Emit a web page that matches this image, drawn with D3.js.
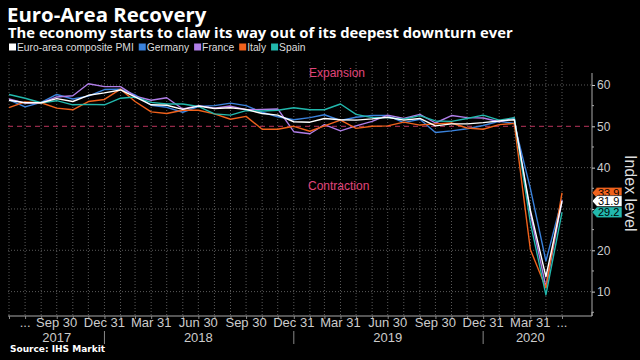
<!DOCTYPE html>
<html><head><meta charset="utf-8">
<script src="https://cdn.jsdelivr.net/npm/d3@7"></script>
<style>
body{margin:0;background:#000;}
svg{display:block;background:#000;}
</style></head><body>
<svg id="c" width="640" height="360"></svg>
<script>
const months = ["2017-06","2017-07","2017-08","2017-09","2017-10","2017-11","2017-12",
"2018-01","2018-02","2018-03","2018-04","2018-05","2018-06","2018-07","2018-08","2018-09","2018-10","2018-11","2018-12",
"2019-01","2019-02","2019-03","2019-04","2019-05","2019-06","2019-07","2019-08","2019-09","2019-10","2019-11","2019-12",
"2020-01","2020-02","2020-03","2020-04","2020-05"];

const euro    = [56.3,55.7,55.7,56.7,56.0,57.5,58.1, 58.8,57.1,55.2,55.1,54.1,54.9,54.3,54.5,54.1,53.1,52.7,51.1, 51.0,51.9,51.6,51.5,51.8,52.2,51.5,51.9,50.1,50.6,50.6,50.9, 51.3,51.6,29.7,13.6,31.9];
const germany = [56.4,54.7,55.8,57.7,56.6,57.3,58.9, 59.0,57.6,55.1,54.6,53.4,54.8,55.0,55.6,55.0,53.4,52.3,51.6, 52.1,52.8,51.4,52.2,52.6,52.6,50.9,51.7,48.5,48.9,49.4,50.2, 51.2,50.7,35.0,17.4,32.3];
const france  = [56.6,55.6,55.6,57.1,57.4,60.3,59.6, 59.6,57.3,56.3,56.9,54.2,55.0,54.4,54.9,54.0,54.1,54.2,48.7, 48.2,50.4,48.9,50.1,51.2,52.7,51.9,52.9,50.8,52.6,52.1,52.0, 51.1,52.0,28.9,11.1,32.1];
const italy   = [54.5,55.9,55.7,54.4,54.0,56.0,56.5, 59.0,56.0,53.5,53.1,53.9,53.9,53.0,51.7,52.4,49.3,49.3,50.0, 48.8,50.1,51.5,49.5,50.0,50.1,51.0,50.3,50.6,50.8,49.6,49.3, 50.4,50.7,20.2,10.9,33.9];
const spain   = [57.7,56.8,55.7,56.2,55.2,55.3,55.2, 56.8,57.1,55.8,55.4,55.4,54.8,53.0,52.7,53.8,53.7,53.9,54.5, 54.0,54.0,55.4,52.9,52.1,52.1,51.7,52.6,51.3,51.2,51.9,52.7, 51.5,52.1,26.7,9.2,29.2];

const seriesNames  = ["Euro-area composite PMI","Germany","France","Italy","Spain"];
const seriesValues = [euro, germany, france, italy, spain];
const seriesColors = ["#ffffff","#3a82dc","#b07ee8","#f0621c","#22b8ad"];
const drawOrder    = [1,2,3,4,0];
const labelOrder   = [3,4,0];   // visible end-value tags (others are hidden behind these)

const tickMonths = ["2017-07","2017-09","2017-12","2018-03","2018-06","2018-09","2018-12","2019-03","2019-06","2019-09","2019-12","2020-03","2020-05"];
const tickLabels = ["...","Sep 30","Dec 31","Mar 31","Jun 30","Sep 30","Dec 31","Mar 31","Jun 30","Sep 30","Dec 31","Mar 31","..."];
const yearMonths = ["2017-09","2018-06","2019-06","2020-03"];
const yearLabels = ["2017","2018","2019","2020"];
const yearBreaks = ["2017-12","2018-12","2019-12"];
const yTicks = [10,20,30,40,50,60];
const yTickLabels = ["10","20","","40","50","60"];
const yMinor = [5,15,25,35,45,55];

const parse = d3.timeParse("%Y-%m");
const monthEnd = m => d3.timeDay.offset(d3.timeMonth.offset(parse(m),1),-1);
const dates = months.map(monthEnd);

const svg = d3.select("#c");
const FONT = "'Liberation Sans', Arial, sans-serif";
const TFONT = "'Open Sans', 'Liberation Sans', sans-serif";
const NARROW = "'Liberation Sans Narrow', 'Liberation Sans', sans-serif";

const x = d3.scaleTime().domain([dates[0], dates[dates.length-1]]).range([9, 562]);
const y = d3.scaleLinear().domain([4.1, 62.9]).range([316, 73]);
const X0 = 8, X1 = 592, YT = 62, YB = 316;

// titles
svg.append("text").attr("x",7).attr("y",21.5).attr("fill","#fff")
  .attr("font-family",TFONT).attr("font-weight","bold").attr("font-size",20.4)
  .text("Euro-Area Recovery");
svg.append("text").attr("x",8).attr("y",38).attr("fill","#fff")
  .attr("font-family",TFONT).attr("font-weight","bold").attr("font-size",14.8)
  .text("The economy starts to claw its way out of its deepest downturn ever");

// legend
const leg = svg.append("g").attr("font-family",NARROW).attr("font-size",10.3).attr("fill","#ddd");
let lx = 9;
seriesNames.forEach((n,i)=>{
  leg.append("rect").attr("x",lx).attr("y",43.5).attr("width",7).attr("height",7).attr("fill",seriesColors[i]);
  const t = leg.append("text").attr("x",lx+8).attr("y",51).text(n);
  lx += 8 + t.node().getComputedTextLength() + 5;
});

// vertical grid
svg.append("g").selectAll("line").data(dates).join("line")
  .attr("x1",d=>x(d)).attr("x2",d=>x(d)).attr("y1",YT).attr("y2",YB)
  .attr("stroke","#5a5a5a").attr("stroke-width",1).attr("stroke-dasharray","1,2");

// horizontal grid
svg.append("g").selectAll("line").data(yTicks.filter(v=>v!==50)).join("line")
  .attr("x1",X0).attr("x2",X1).attr("y1",d=>y(d)).attr("y2",d=>y(d))
  .attr("stroke","#5a5a5a").attr("stroke-width",1).attr("stroke-dasharray","1,2");

// 50 reference line
svg.append("line").attr("x1",X0).attr("x2",X1).attr("y1",y(50)).attr("y2",y(50))
  .attr("stroke","#b8345a").attr("stroke-width",1).attr("stroke-dasharray","5,4");

// annotations
svg.append("text").attr("x",309).attr("y",77).attr("fill","#e0457b")
  .attr("font-family",FONT).attr("font-size",12).text("Expansion");
svg.append("text").attr("x",308).attr("y",190).attr("fill","#e0457b")
  .attr("font-family",FONT).attr("font-size",12).text("Contraction");

// lines
const line = d3.line().x((d,i)=>x(dates[i])).y(d=>y(d));
drawOrder.forEach(i=>{
  svg.append("path").datum(seriesValues[i]).attr("d",line)
    .attr("fill","none").attr("stroke",seriesColors[i]).attr("stroke-width",1.4)
    .attr("stroke-linejoin","round");
});

// x axis
const xa = svg.append("g").attr("transform",`translate(0,${YB})`)
  .call(d3.axisBottom(x).tickValues(dates).tickSize(3).tickFormat(""));
xa.select(".domain").attr("d",`M${X0},0H${X1}V-4`).attr("stroke","#aaa").attr("fill","none");
xa.selectAll(".tick line").attr("stroke","#888");
const xl = svg.append("g").attr("font-family",NARROW).attr("font-size",13).attr("fill","#ccc").attr("text-anchor","middle");
tickMonths.forEach((m,i)=>{
  xl.append("text").attr("x",x(monthEnd(m))).attr("y",327).text(tickLabels[i]);
});
yearMonths.forEach((m,i)=>{
  xl.append("text").attr("x",x(monthEnd(m))).attr("y",342).text(yearLabels[i]);
});
svg.append("g").selectAll("line").data(yearBreaks).join("line")
  .attr("x1",d=>x(monthEnd(d))).attr("x2",d=>x(monthEnd(d))).attr("y1",331).attr("y2",344)
  .attr("stroke","#888").attr("stroke-width",1);

// y axis (right)
const ya = svg.append("g").attr("transform",`translate(${X1},0)`)
  .call(d3.axisRight(y).tickValues(yTicks).tickSize(3).tickPadding(2)
        .tickFormat((d,i)=>yTickLabels[i]));
ya.select(".domain").attr("d",`M0,${y(62.9)}V${YB}`).attr("stroke","#aaa");
ya.selectAll(".tick line").attr("stroke","#ccc");
ya.selectAll(".tick text").attr("fill","#ccc").attr("font-family",FONT).attr("font-size",12);
svg.append("g").selectAll("line").data(yMinor).join("line")
  .attr("x1",X1).attr("x2",X1+2).attr("y1",d=>y(d)).attr("y2",d=>y(d)).attr("stroke","#aaa");

svg.append("text").attr("transform","translate(625,155) rotate(90)")
  .attr("fill","#ddd").attr("font-family",FONT).attr("font-size",16).text("Index level");

// end labels
labelOrder.forEach(i=>{
  const v = seriesValues[i][seriesValues[i].length-1];
  const cy = y(v);
  const g = svg.append("g");
  g.append("path").attr("d",`M${X1},${cy}L${X1+5},${cy-5.5}H${X1+30}V${cy+5.5}H${X1+5}Z`)
    .attr("fill",seriesColors[i]).attr("stroke","#000").attr("stroke-width",0.6);
  g.append("text").attr("x",X1+6).attr("y",cy+4).attr("fill","#000")
    .attr("font-family",FONT).attr("font-size",11).text(v.toFixed(1));
});

// source
svg.append("text").attr("x",10).attr("y",352).attr("fill","#fff")
  .attr("font-family","'DejaVu Sans', sans-serif").attr("font-weight","bold").attr("font-size",9)
  .text("Source: IHS Markit");
</script>
</body></html>
